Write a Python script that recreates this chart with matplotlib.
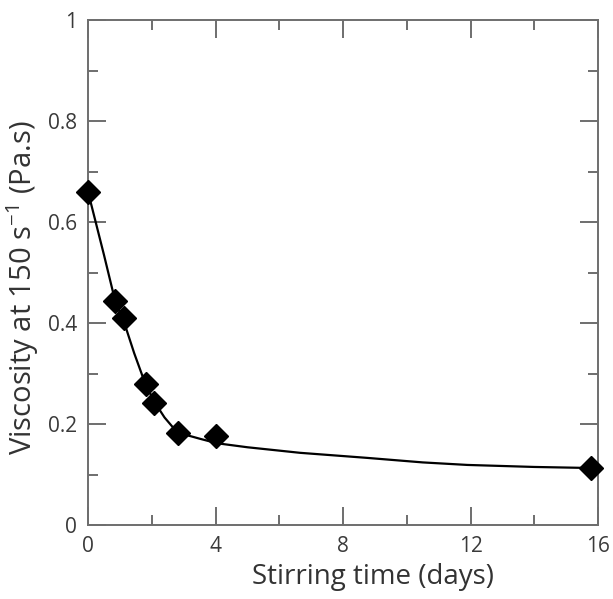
import numpy as np
import matplotlib.pyplot as plt
from matplotlib.ticker import MultipleLocator

# measured points
days = [0.0, 0.85, 1.13, 1.82, 2.07, 2.82, 4.01, 15.77]
viscosity = [0.66, 0.444, 0.41, 0.279, 0.242, 0.182, 0.176, 0.113]

# fitted curve
fit_days = [0.0, 0.5, 0.85, 1.16, 1.45, 1.72, 2.04, 2.4, 2.79, 3.1, 3.5, 4.04,
            5.0, 6.65, 8.75, 10.5, 11.9, 14.0, 15.7]
fit_visc = [0.66, 0.535, 0.444, 0.396, 0.34, 0.293, 0.248, 0.213, 0.184, 0.178,
            0.171, 0.162, 0.154, 0.143, 0.133, 0.124, 0.119, 0.115, 0.113]

plt.rcParams['font.family'] = ['Open Sans', 'DejaVu Sans']

fig = plt.figure(figsize=(6.13, 5.99), dpi=100)
ax = fig.add_axes([0.1436, 0.1235, 0.832, 0.843])

ax.plot(fit_days, fit_visc, color='black', lw=1.6, zorder=2)
ax.plot(days, viscosity, 'D', color='black', markersize=12, zorder=3,
        clip_on=False)

ax.set_xlim(0, 16)
ax.set_ylim(0, 1)
ax.xaxis.set_major_locator(MultipleLocator(4))
ax.xaxis.set_minor_locator(MultipleLocator(2))
ax.yaxis.set_major_locator(MultipleLocator(0.2))
ax.yaxis.set_minor_locator(MultipleLocator(0.1))
ax.set_yticks([0, 0.2, 0.4, 0.6, 0.8, 1.0], ['0', '0.2', '0.4', '0.6', '0.8', '1'])

grey = '#6e6e6e'
for s in ax.spines.values():
    s.set_color(grey)
    s.set_linewidth(1.4)
ax.tick_params(which='both', direction='in', top=True, right=True,
               color=grey, width=1.4, labelsize=15, labelcolor='#3a3a3a')
ax.tick_params(which='major', length=13, pad=8)
ax.tick_params(which='minor', length=7)

ax.set_xlabel('Stirring time (days)', fontsize=20, color='#333333')
ax.xaxis.set_label_coords(0.559, -0.075)
ax.set_ylabel('Viscosity at 150 s$^{\\mathregular{-1}}$ (Pa.s)', fontsize=21,
              color='#333333')
ax.yaxis.set_label_coords(-0.092, 0.47)

fig.savefig('out.png', dpi=100)
